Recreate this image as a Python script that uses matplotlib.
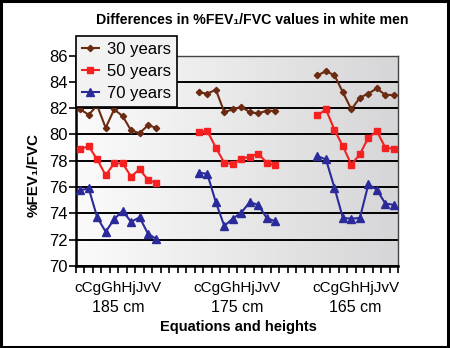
import numpy as np
import matplotlib
matplotlib.use("Agg")
import matplotlib.pyplot as plt
from matplotlib.patches import Rectangle
from matplotlib.colors import LinearSegmentedColormap

plt.rcParams['font.family'] = ['Liberation Sans', 'DejaVu Sans']

equations = ["c", "C", "g", "G", "h", "H", "j", "J", "v", "V"]
heights = ["185 cm", "175 cm", "165 cm"]
series_names = ["30 years", "50 years", "70 years"]

y30 = [[81.9, 81.5, 82.2, 80.5, 81.9, 81.4, 80.3, 80.1, 80.7, 80.5],
       [83.2, 83.1, 83.4, 81.7, 81.9, 82.1, 81.7, 81.6, 81.8, 81.8],
       [84.5, 84.8, 84.5, 83.2, 81.9, 82.8, 83.1, 83.5, 83.0, 83.0]]
y50 = [[78.9, 79.1, 78.1, 76.9, 77.8, 77.8, 76.8, 77.35, 76.55, 76.3],
       [80.2, 80.25, 79.0, 77.85, 77.75, 78.15, 78.3, 78.55, 77.85, 77.65],
       [81.45, 81.9, 80.35, 79.1, 77.7, 78.5, 79.75, 80.25, 79.0, 78.9]]
y70 = [[75.75, 75.9, 73.7, 72.6, 73.55, 74.2, 73.35, 73.7, 72.45, 72.05],
       [77.1, 77.0, 74.85, 73.05, 73.6, 74.05, 74.85, 74.65, 73.65, 73.4],
       [78.35, 78.1, 75.95, 73.65, 73.6, 73.65, 76.2, 75.8, 74.75, 74.65]]

group_gap = 14
n = len(equations)

fig = plt.figure(figsize=(4.5, 3.48), dpi=100)
fig.patch.set_facecolor("white")
ax = fig.add_axes([76/450, 1-266/348, (398-76)/450, (266-55.5)/348])

grad = np.linspace(0, 1, 256).reshape(1, -1)
cm = LinearSegmentedColormap.from_list("g", ["#fbfbfb", "#d6d6d8"])
ax.imshow(grad, extent=[0, 1, 0, 1], transform=ax.transAxes, aspect="auto",
          cmap=cm, zorder=0)

styles = [
    dict(color="#6b2a12", marker="D", ms=3.2, lw=1.5),
    dict(color="#f52020", marker="s", ms=4.5, lw=1.5),
    dict(color="#2a2a9a", marker="^", ms=6, lw=1.5),
]
for name, data, st in zip(series_names, [y30, y50, y70], styles):
    for g in range(len(heights)):
        xs = np.arange(n) + g * group_gap
        ax.plot(xs, data[g], color=st["color"], marker=st["marker"],
                ms=st["ms"], lw=st["lw"], mec=st["color"], zorder=3,
                label=name if g == 0 else None)

ax.set_xlim(-0.5, 37.5)
ax.set_ylim(70, 86)
ax.set_yticks(np.arange(70, 87, 2))
ax.yaxis.grid(True, color="black", lw=1.4, zorder=1)
ax.set_axisbelow(True)
ax.set_xticks(np.arange(-0.5, 38, 1))
ax.set_xticklabels([])
ax.tick_params(axis="x", bottom=True, direction="out", length=5, width=1.2)
ax.tick_params(axis="y", direction="out", length=5, width=1.2, labelsize=12, pad=1)
for s in ["left", "bottom"]:
    ax.spines[s].set_linewidth(1.8)
    ax.spines[s].set_color("black")
for s in ["top", "right"]:
    ax.spines[s].set_linewidth(1.0)
    ax.spines[s].set_color("#444444")

for g, h in enumerate(heights):
    cx = g * group_gap + (n - 1) / 2
    ax.text(cx, -0.105, "".join(equations), transform=ax.get_xaxis_transform(),
            ha="center", va="center", fontsize=11)
    ax.text(cx, -0.195, h, transform=ax.get_xaxis_transform(),
            ha="center", va="center", fontsize=11.5)

fig.text(0.53, 1-327/348, "Equations and heights", ha="center", va="center",
         fontsize=10.5, fontweight="bold")
fig.text(34/450, 1-175/348, "%FEV\u2081/FVC", ha="center", va="center",
         rotation=90, fontsize=11, fontweight="bold")
fig.text(252/450, 1-20/348, "Differences in %FEV\u2081/FVC values in white men",
         ha="center", va="center", fontsize=10.2, fontweight="bold")

leg = ax.legend(loc="upper left", bbox_to_anchor=(76/450, 1-36/348),
                bbox_transform=fig.transFigure, fontsize=12, frameon=True,
                fancybox=False, edgecolor="black", facecolor="#f2f2f2",
                framealpha=1, handlelength=1.0, handletextpad=0.5,
                borderpad=0.35, labelspacing=0.42, borderaxespad=0)
leg.get_frame().set_linewidth(1.2)
leg.set_zorder(5)

fig.patches.append(Rectangle((0.003, 0.004), 0.992, 0.992, transform=fig.transFigure,
                             fill=False, edgecolor="black", lw=2.2))

fig.savefig("out.png", dpi=100)
